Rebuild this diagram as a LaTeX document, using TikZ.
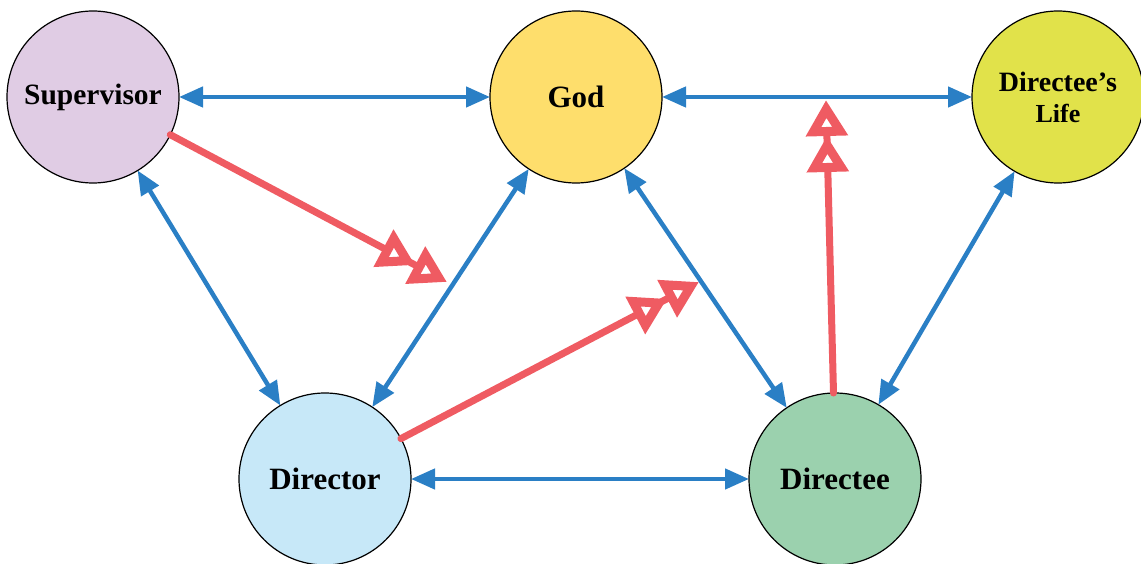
\documentclass[tikz,border=0pt]{standalone}
\usepackage{fontspec}
\setmainfont{Liberation Serif}
\usetikzlibrary{arrows.meta}
\definecolor{supc}{HTML}{E0CCE4}
\definecolor{godc}{HTML}{FEDE6C}
\definecolor{lifec}{HTML}{E1E24A}
\definecolor{dirc}{HTML}{C7E8F8}
\definecolor{deec}{HTML}{9BD1AE}
\definecolor{blueln}{HTML}{2A7FC5}
\definecolor{redln}{HTML}{EF5B62}
\tikzset{
  role/.style={circle, draw=black, line width=1.2pt, minimum size=172pt, inner sep=0pt, outer sep=0pt, font=\bfseries\fontsize{31}{33}\selectfont, align=center},
  link/.style={draw=blueln, line width=4.5pt, {Triangle[length=24pt,width=20pt]}-{Triangle[length=24pt,width=20pt]}},
  influence/.style={draw=redln, line width=7pt, line cap=round, -{Triangle[fill=white,length=36pt,width=40pt,line width=10pt]Triangle[fill=white,length=36pt,width=40pt,line width=10pt]}}
}
\begin{document}
\begin{tikzpicture}[x=1pt,y=-1pt]
\useasboundingbox (0,0) rectangle (1141,564);
\node[role, fill=supc, font=\bfseries\fontsize{29.5}{31}\selectfont] (sup) at (93,97) {Supervisor};
\node[role, fill=godc] (god) at (576,97) {God};
\node[role, fill=lifec, font=\bfseries\fontsize{28}{30}\selectfont] (life) at (1058,97) {Directee’s\\[1pt]{\fontsize{26}{28}\selectfont Life}};
\node[role, fill=dirc] (dir) at (325,479) {Director};
\node[role, fill=deec] (dee) at (835,479) {Directee};
\draw[link] (sup) -- (god);
\draw[link] (god) -- (life);
\draw[link] (sup) -- (dir);
\draw[link] (god) -- (dir);
\draw[link] (god) -- (dee);
\draw[link] (life) -- (dee);
\draw[link] (dir) -- (dee);
\coordinate (t1) at (447,282);
\coordinate (t2) at (699,282);
\coordinate (t3) at (826,100);
\draw[influence] (sup.-26) -- (t1);
\draw[influence] (dir.28) -- (t2);
\draw[influence] (dee.91) -- (t3);
\end{tikzpicture}
\end{document}
